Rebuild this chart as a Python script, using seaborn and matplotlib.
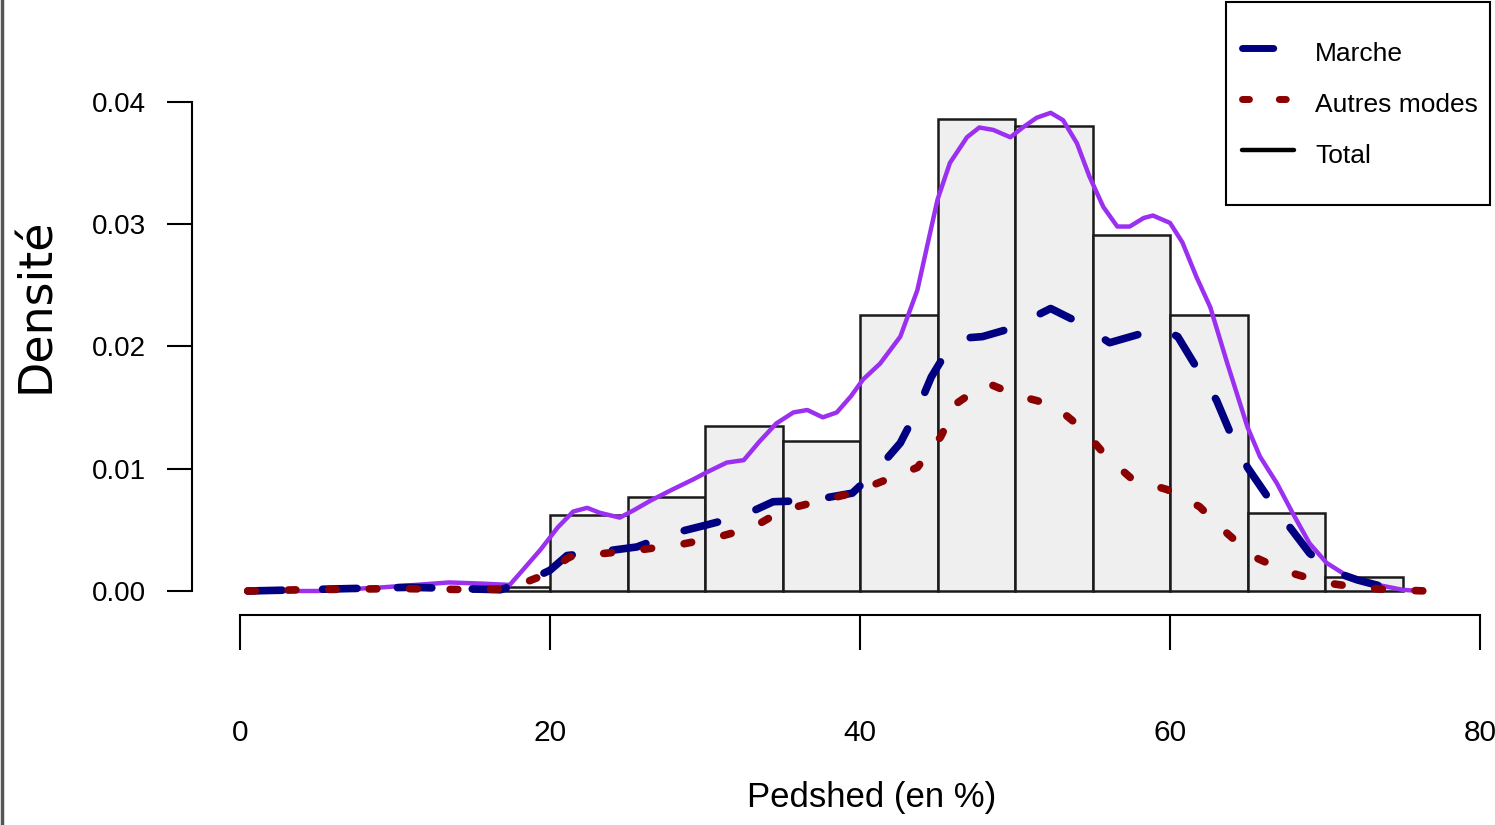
import matplotlib
matplotlib.use("Agg")
import matplotlib.pyplot as plt
from matplotlib.lines import Line2D
from matplotlib.patches import Rectangle
import seaborn as sns

# --- données ---
bin_edges = [15, 20, 25, 30, 35, 40, 45, 50, 55, 60, 65, 70, 75]
bin_density = [0.0003, 0.0062, 0.0077, 0.0135, 0.0123, 0.0226, 0.0386,
               0.0380, 0.0291, 0.0226, 0.0064, 0.00115]

total_x = [0.45, 5.0, 9.2, 13.5, 15.7, 17.4, 18.1, 19.4, 20.5, 21.5, 22.4, 23.2,
           24.5, 25.4, 26.5, 27.9, 29.2, 30.1, 31.4, 32.5, 33.5, 34.6, 35.7,
           36.6, 37.6, 38.5, 39.4, 40.2, 41.3, 42.6, 43.7, 45.0, 45.8, 46.9, 47.7,
           48.6, 49.7, 50.5, 51.4, 52.3, 53.1, 54.0, 54.8, 55.7, 56.6, 57.4,
           58.3, 58.9, 60.0, 60.8, 61.7, 62.6, 63.7, 65.0, 65.8, 66.9, 67.9,
           69.0, 70.1, 71.6, 73.4, 75.0, 76.1]
total_y = [0.0, 0.0, 0.0003, 0.0007, 0.0006, 0.0005, 0.0015, 0.0034, 0.0052,
           0.0065, 0.0068, 0.0064, 0.0060, 0.0066, 0.0074, 0.0083, 0.0091,
           0.0097, 0.0105, 0.0107, 0.0122, 0.0137, 0.0146, 0.0148, 0.0142,
           0.0146, 0.0159, 0.0173, 0.0186, 0.0208, 0.0246, 0.0320, 0.0350, 0.0371,
           0.0379, 0.0377, 0.0371, 0.0379, 0.0387, 0.0391, 0.0385, 0.0366,
           0.0339, 0.0314, 0.0298, 0.0298, 0.0305, 0.0307, 0.0301, 0.0285,
           0.0257, 0.0232, 0.0186, 0.0134, 0.0110, 0.0088, 0.0064, 0.0039,
           0.0023, 0.0011, 0.0005, 0.0001, 0.0]

marche_x = [0.5, 3.9, 7.1, 11.0, 14.2, 16.8, 18.7, 20.0, 21.1, 23.2, 25.6, 27.9,
            30.1, 32.5, 34.4, 36.8, 39.5, 41.1, 42.6, 43.7, 44.6, 45.8, 46.9,
            47.9, 50.1, 51.2, 52.3, 54.2, 56.1, 58.3, 59.4, 60.5, 61.7, 63.0,
            63.9, 65.0, 66.3, 67.5, 69.0, 70.3, 72.1, 74.2, 75.5]
marche_y = [0.0, 0.0001, 0.0002, 0.0003, 0.0002, 0.0001, 0.0009, 0.0017, 0.0029,
            0.0032, 0.0036, 0.0047, 0.0054, 0.0062, 0.0073, 0.0074, 0.0080,
            0.0099, 0.0121, 0.0148, 0.0175, 0.0200, 0.0207, 0.0208, 0.0216,
            0.0224, 0.0231, 0.0219, 0.0203, 0.0211, 0.0215, 0.0208, 0.0183,
            0.0156, 0.0129, 0.0101, 0.0077, 0.0056, 0.0031, 0.0017, 0.0009,
            0.0002, 0.0]

autres_x = [0.5, 3.9, 10.3, 15.5, 17.4, 19.2, 21.3, 23.7, 26.0, 28.4, 30.8, 33.1,
            35.0, 37.2, 39.5, 41.7, 43.7, 45.2, 46.3, 47.9, 48.4, 50.1, 52.5,
            54.4, 55.9, 57.6, 59.8, 61.9, 63.7, 65.4, 67.5, 69.9, 72.1, 74.2,
            76.6]
autres_y = [0.0, 0.0001, 0.0002, 0.0001, 0.0002, 0.0011, 0.0028, 0.0031, 0.0034,
            0.0038, 0.0044, 0.0052, 0.0066, 0.0073, 0.0080, 0.0091, 0.0101,
            0.0126, 0.0154, 0.0168, 0.0169, 0.0160, 0.0152, 0.0132, 0.0110,
            0.0091, 0.0083, 0.0069, 0.0047, 0.0028, 0.0016, 0.0007, 0.0003,
            0.0001, 0.0]

legend_labels = ["Marche", "Autres modes", "Total"]
y_ticks = [0.00, 0.01, 0.02, 0.03, 0.04]
x_ticks = [0, 20, 40, 60, 80]

sns.set_style("white")
plt.rcParams['font.family'] = ['Liberation Sans', 'DejaVu Sans']
plt.rcParams['text.color'] = 'black'
plt.rcParams['axes.labelcolor'] = 'black'
plt.rcParams['xtick.color'] = 'black'
plt.rcParams['ytick.color'] = 'black'

fig = plt.figure(figsize=(14.95, 8.25), dpi=100)
ax = fig.add_axes([192 / 1495, 210 / 825, 1303 / 1495, 575 / 825])

centers = [(a + b) / 2 for a, b in zip(bin_edges[:-1], bin_edges[1:])]
sns.histplot(x=centers, weights=bin_density, bins=bin_edges, stat="count",
             color="#efefef", edgecolor="#1a1a1a", linewidth=1.8, alpha=1, ax=ax)

dash_marche = (0, (4.5, 5.3))
dash_autres = (0, (1, 4.3))
sns.lineplot(x=total_x, y=total_y, color="#9b30f0", lw=3.2, ax=ax)
sns.lineplot(x=marche_x, y=marche_y, color="#000080", lw=5.5,
             linestyle=dash_marche, dash_capstyle="round", ax=ax)
sns.lineplot(x=autres_x, y=autres_y, color="#8b0000", lw=5.5,
             linestyle=dash_autres, dash_capstyle="round", ax=ax)

ax.set_xlim(-48 / 15.5, 1255 / 15.5)
ax.set_ylim(-24 / 12230, 551 / 12230)

for s in ["top", "right"]:
    ax.spines[s].set_visible(False)
ax.spines["left"].set_bounds(0, 0.04)
ax.spines["bottom"].set_bounds(0, 80)
for s in ["left", "bottom"]:
    ax.spines[s].set_linewidth(1.5)
    ax.spines[s].set_color("black")

ax.set_yticks(y_ticks)
ax.set_yticklabels([f"{v:.2f}" for v in y_ticks])
ax.set_xticks(x_ticks)
ax.set_xticklabels([str(v) for v in x_ticks])
ax.tick_params(axis="y", direction="out", length=18, width=1.5, pad=15,
               labelsize=20, left=True)
ax.tick_params(axis="x", direction="out", length=25, width=1.5, pad=50,
               labelsize=21.5, bottom=True)

ax.set_ylabel("Densité", family="DejaVu Sans", fontsize=33, va="center")
ax.yaxis.set_label_coords((37 - 192) / 1303, (615 - 305) / 575)
ax.set_xlabel("Pedshed (en %)", fontsize=25, va="center")
ax.xaxis.set_label_coords((872 - 192) / 1303, -(797 - 615) / 575)

# légende : cadre dessiné à part, entrées centrées dedans
fig.add_artist(Rectangle((1226 / 1495, 1 - 205 / 825), 264 / 1495, 203 / 825,
                         transform=fig.transFigure, facecolor="white",
                         edgecolor="black", lw=1.5, zorder=4))
handles = [
    Line2D([], [], color="#000080", lw=5, linestyle=dash_marche, dash_capstyle="round"),
    Line2D([], [], color="#8b0000", lw=5, linestyle=dash_autres, dash_capstyle="round"),
    Line2D([], [], color="black", lw=3.2),
]
leg = fig.legend(handles, legend_labels, loc="center",
                 bbox_to_anchor=(1360 / 1495, 1 - 103 / 825), bbox_transform=fig.transFigure,
                 borderaxespad=0, fontsize=19, frameon=False,
                 handlelength=1.97, handleheight=1.6, labelspacing=0.65,
                 handletextpad=0.8, borderpad=0)
leg.set_zorder(5)

# bord gauche du cadre d'origine
fig.add_artist(Line2D([0.0015, 0.0015], [0, 1], transform=fig.transFigure,
                      color="#555555", lw=2.5))

fig.savefig("out.png", dpi=100)
